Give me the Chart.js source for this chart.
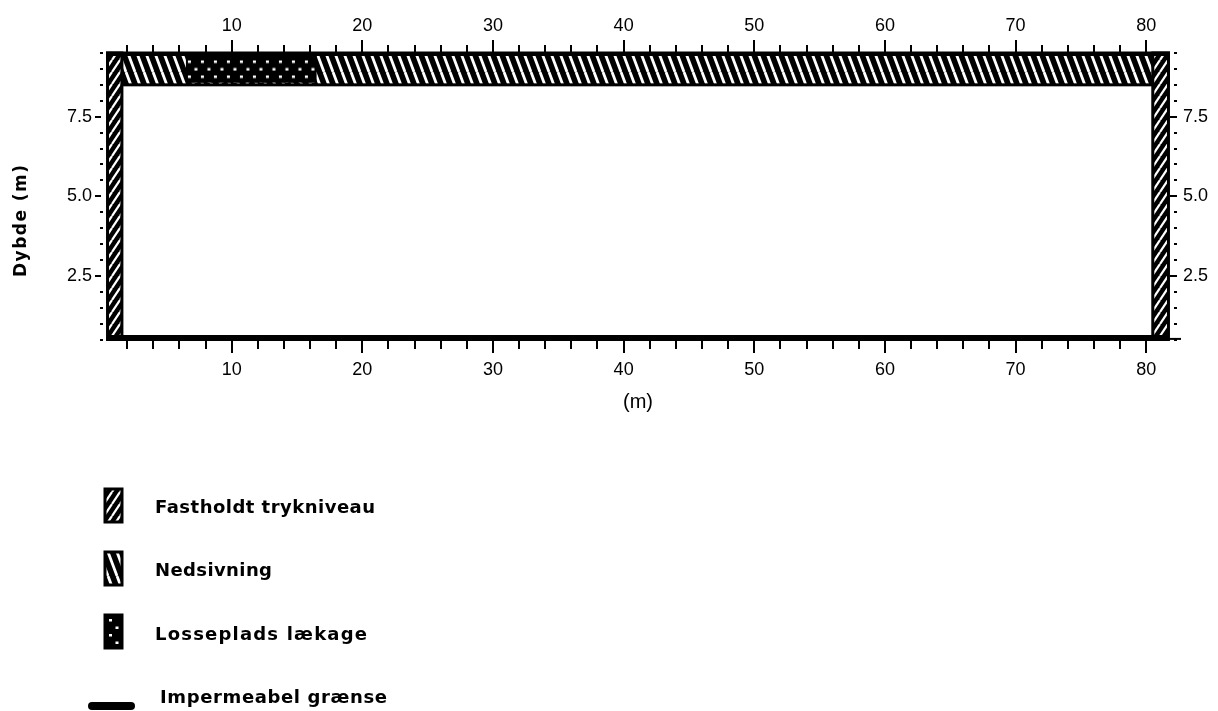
<!DOCTYPE html>
<html>
<head>
<meta charset="utf-8">
<script src="https://cdn.jsdelivr.net/npm/chart.js@4/dist/chart.umd.min.js"></script>
<style>
html,body{margin:0;padding:0;background:#fff;}
#wrap{width:1218px;height:711px;position:relative;}
canvas{display:block;}
</style>
</head>
<body>
<div id="wrap"><canvas id="c" width="1218" height="711"></canvas></div>
<script>
// ---------- data (model boundary conditions, in metres) ----------
const xMajorTicks = [10, 20, 30, 40, 50, 60, 70, 80];
const yMajorTicks = [2.5, 5.0, 7.5];
const fixedHeadColumnsX = [[0.5, 1.6], [80.5, 81.7]];   // Fastholdt trykniveau
const fixedHeadColumnsY = [0.5, 9.5];
const infiltrationX = [0.5, 81.7];                       // Nedsivning
const infiltrationY = [8.5, 9.5];
const leakageX = [6.5, 16.5];                            // Losseplads lækage
const leakageY = [8.5, 9.5];
const impermeableX = [0.5, 81.7];                        // Impermeabel grænse
const impermeableY = [0.55, 0.55];
const legendLabels = ['Fastholdt trykniveau', 'Nedsivning', 'Losseplads lækage', 'Impermeabel grænse'];
const xTitle = '(m)';
const yTitle = 'Dybde (m)';

// ---------- patterns ----------
function stripePattern(W, H, forward, lw) {
  const c = document.createElement('canvas');
  c.width = W; c.height = H;
  const g = c.getContext('2d');
  g.fillStyle = '#000'; g.fillRect(0, 0, W, H);
  g.strokeStyle = '#fff'; g.lineWidth = lw;
  for (let k = -1; k <= 1; k++) {
    g.beginPath();
    if (forward) { g.moveTo(k * W, H); g.lineTo(k * W + W, 0); }
    else { g.moveTo(k * W, 0); g.lineTo(k * W + W, H); }
    g.stroke();
  }
  return g.createPattern(c, 'repeat');
}
function dotPattern() {
  const c = document.createElement('canvas');
  c.width = 13; c.height = 15;
  const g = c.getContext('2d');
  g.fillStyle = '#000'; g.fillRect(0, 0, 13, 15);
  g.fillStyle = '#fff';
  g.fillRect(2, 0, 3, 2.5);
  g.fillRect(8.5, 7.5, 3, 2.5);
  return g.createPattern(c, 'repeat');
}
const pats = {
  fwd: stripePattern(8, 12, true, 2.2),
  back: stripePattern(9, 24, false, 2.8),
  dots: dotPattern()
};

function near(a, b) { return Math.abs(a - b) < 1e-6; }

function fitText(ctx, text, x, y, target) {
  ctx.letterSpacing = '0px';
  const w = ctx.measureText(text).width;
  const ls = (target - w) / (text.length - 1);
  ctx.letterSpacing = ls.toFixed(2) + 'px';
  ctx.fillText(text, x, y);
  ctx.letterSpacing = '0px';
}

const boundaryPlugin = {
  id: 'boundaries',
  beforeDatasetsDraw(chart) {
    const ctx = chart.ctx, xs = chart.scales.x, ys = chart.scales.y;
    const R = (xr, yr) => {
      const x0 = xs.getPixelForValue(xr[0]), x1 = xs.getPixelForValue(xr[1]);
      const yT = ys.getPixelForValue(yr[1]), yB = ys.getPixelForValue(yr[0]);
      return {x: x0, y: yT, w: x1 - x0, h: yB - yT};
    };
    ctx.save();
    ctx.strokeStyle = '#000';
    const t = R(infiltrationX, infiltrationY);
    ctx.fillStyle = pats.back; ctx.fillRect(t.x, t.y, t.w, t.h);
    const l = R(leakageX, leakageY);
    pats.dots.setTransform(new DOMMatrix().translate(l.x, l.y + 7.5));
    ctx.fillStyle = pats.dots; ctx.fillRect(l.x, l.y + 2, l.w, l.h - 4);
    ctx.lineWidth = 3; ctx.strokeRect(t.x, t.y, t.w, t.h);
    fixedHeadColumnsX.forEach(xr => {
      const r = R(xr, fixedHeadColumnsY);
      ctx.fillStyle = pats.fwd; ctx.fillRect(r.x, r.y, r.w, r.h);
      ctx.lineWidth = 3; ctx.strokeRect(r.x, r.y, r.w, r.h);
    });
    ctx.lineWidth = 4;
    ctx.beginPath(); ctx.moveTo(t.x - 1.5, t.y + 1); ctx.lineTo(t.x + t.w + 1.5, t.y + 1); ctx.stroke();
    ctx.restore();
  },
  afterDraw(chart) {
    const ctx = chart.ctx, xs = chart.scales.x, ys = chart.scales.y;
    const ca = chart.chartArea;
    ctx.save();
    ctx.strokeStyle = '#000'; ctx.fillStyle = '#000';
    ctx.lineWidth = 2; ctx.lineCap = 'butt';
    const seg = (x0, y0, x1, y1) => { ctx.beginPath(); ctx.moveTo(x0, y0); ctx.lineTo(x1, y1); ctx.stroke(); };
    xs.ticks.forEach(tk => {
      if (tk.value < 1 || tk.value > 81) return;
      const px = Math.round(xs.getPixelForValue(tk.value));
      const major = xMajorTicks.some(v => near(v, tk.value));
      seg(px, ca.top, px, ca.top - (major ? 13 : 8));
      seg(px, ca.bottom + 1, px, ca.bottom + (major ? 13.5 : 9.5));
    });
    ys.ticks.forEach(tk => {
      const py = Math.round(ys.getPixelForValue(tk.value));
      const major = yMajorTicks.some(v => near(v, tk.value));
      if (major) { seg(ca.left - 6, py, ca.left, py); seg(ca.right - 5, py, ca.right + 2, py); }
      else { seg(ca.left - 1, py, ca.left + 2, py); seg(ca.right - 1, py, ca.right + 2, py); }
    });
    const yAx = ys.getPixelForValue(impermeableY[1]) + 1;
    seg(xs.getPixelForValue(impermeableX[1]), yAx, ca.right + 6, yAx);

    // y title
    ctx.save();
    ctx.font = 'bold 17px "DejaVu Sans"';
    ctx.textBaseline = 'alphabetic'; ctx.textAlign = 'left';
    ctx.translate(25.5, 277);
    ctx.rotate(-Math.PI / 2);
    fitText(ctx, yTitle, 0, 0, 112);
    ctx.restore();

    // legend
    const iconX = 105, iconW = 17, iconH = 33;
    const iconTops = [489, 552, 615];
    const iconPats = [pats.fwd, pats.back, pats.dots];
    iconTops.forEach((yy, i) => {
      ctx.fillStyle = iconPats[i];
      if (i === 2) iconPats[i].setTransform(new DOMMatrix().translate(iconX + 2, yy + 4));
      ctx.fillRect(iconX, yy, iconW, iconH);
      ctx.lineWidth = 3; ctx.strokeRect(iconX, yy, iconW, iconH);
    });
    ctx.lineWidth = 8; ctx.lineCap = 'round';
    seg(92, 706, 131, 706);
    ctx.fillStyle = '#000';
    ctx.font = 'bold 18px "DejaVu Sans"';
    ctx.textBaseline = 'alphabetic'; ctx.textAlign = 'left';
    const lx = [155, 155, 155, 160], ly = [513, 576, 640, 703], lw = [220, 117, 212, 227];
    legendLabels.forEach((s, i) => fitText(ctx, s, lx[i], ly[i], lw[i]));
    ctx.restore();
  }
};

const tickFont = {family: '"Liberation Sans", Arial, sans-serif', size: 18};
const xLabel = v => xMajorTicks.some(m => near(m, v)) ? String(v) : '';
const yLabel = v => yMajorTicks.some(m => near(m, v)) ? v.toFixed(1) : '';

new Chart(document.getElementById('c'), {
  type: 'scatter',
  data: {
    datasets: [{
      label: legendLabels[3],
      data: impermeableX.map((x, i) => ({x, y: impermeableY[i]})),
      showLine: true,
      borderColor: '#000',
      borderWidth: 6,
      pointRadius: 0,
      clip: false
    }]
  },
  options: {
    responsive: false,
    animation: false,
    devicePixelRatio: 1,
    layout: {padding: {left: 0, right: 0, top: 0, bottom: 291.5}},
    plugins: {legend: {display: false}, tooltip: {enabled: false}},
    scales: {
      x: {
        type: 'linear', position: 'bottom', min: 0, max: 82.2,
        grid: {display: false, drawTicks: false}, border: {display: false},
        ticks: {stepSize: 2, includeBounds: false, autoSkip: false, maxRotation: 0, padding: 20,
                color: '#000', font: tickFont, callback: xLabel},
        title: {display: true, text: xTitle, color: '#000',
                font: {family: '"Liberation Sans", Arial, sans-serif', size: 20},
                padding: {top: 0, bottom: 5}},
        afterFit: s => { s.height = 80; }
      },
      x2: {
        type: 'linear', axis: 'x', position: 'top', min: 0, max: 82.2,
        grid: {display: false, drawTicks: false}, border: {display: false},
        ticks: {stepSize: 2, includeBounds: false, autoSkip: false, maxRotation: 0, padding: 16,
                color: '#000', font: tickFont, callback: xLabel},
        afterFit: s => { s.height = 53; }
      },
      y: {
        type: 'linear', position: 'left', min: 0.5, max: 9.5,
        grid: {display: false, drawTicks: false}, border: {display: false},
        ticks: {stepSize: 0.5, includeBounds: false, autoSkip: false, padding: 9,
                color: '#000', font: tickFont, callback: yLabel},
        afterFit: s => { s.width = 101; }
      },
      y2: {
        type: 'linear', axis: 'y', position: 'right', min: 0.5, max: 9.5,
        grid: {display: false, drawTicks: false}, border: {display: false},
        ticks: {stepSize: 0.5, includeBounds: false, autoSkip: false, padding: 8,
                color: '#000', font: tickFont, callback: yLabel},
        afterFit: s => { s.width = 43; }
      }
    }
  },
  plugins: [boundaryPlugin]
});
</script>
</body>
</html>
